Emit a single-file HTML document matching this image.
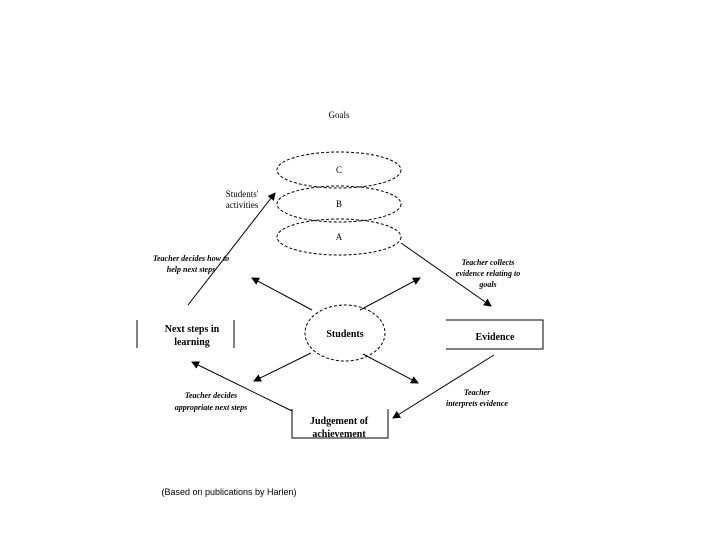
<!DOCTYPE html>
<html><head><style>body{margin:0;background:#fff}svg{display:block}</style></head><body>
<svg width="720" height="540" xmlns="http://www.w3.org/2000/svg" font-family="Liberation Serif, serif">
<defs><marker id="a" markerWidth="8" markerHeight="8" refX="7" refY="4" orient="auto" markerUnits="userSpaceOnUse"><path d="M0,0 L8,4 L0,8z" fill="#000"/></marker></defs>
<g fill="none" stroke="#000" stroke-width="1" stroke-dasharray="3,2">
<ellipse cx="339" cy="170" rx="62" ry="18"/>
<ellipse cx="339" cy="204" rx="62" ry="18"/>
<ellipse cx="339" cy="237" rx="62" ry="18"/>
<ellipse cx="345" cy="333" rx="40" ry="28"/>
</g>
<g stroke="#000" stroke-width="1" fill="none">
<line x1="137" y1="320" x2="137" y2="348"/><line x1="234" y1="320" x2="234" y2="348"/>
<polyline points="446,320 543,320 543,349 446,349"/>
<polyline points="292,409 292,438 388,438 388,409"/>
<g marker-end="url(#a)">
<line x1="188" y1="305" x2="275" y2="193"/>
<line x1="401" y1="243" x2="491" y2="306"/>
<line x1="494" y1="355" x2="393" y2="418"/>
<line x1="292" y1="411" x2="192" y2="362"/>
<line x1="312" y1="310" x2="252" y2="278"/>
<line x1="360" y1="310" x2="420" y2="278"/>
<line x1="311" y1="353" x2="254" y2="381"/>
<line x1="363" y1="354" x2="418" y2="383"/>
</g></g>
<g font-size="9" text-anchor="middle">
<text x="339" y="118">Goals</text>
<text x="339" y="173">C</text><text x="339" y="207">B</text><text x="339" y="240">A</text>
<text x="242" y="197">Students'</text><text x="242" y="208">activities</text>
</g>
<g font-size="10" font-weight="bold" text-anchor="middle">
<text x="192" y="332">Next steps in</text><text x="192" y="345">learning</text>
<text x="345" y="337">Students</text>
<text x="495" y="340">Evidence</text>
<text x="339" y="424">Judgement of</text><text x="339" y="437">achievement</text>
</g>
<g font-size="8" font-style="italic" font-weight="bold" text-anchor="middle">
<text x="191" y="261">Teacher decides how to</text><text x="191" y="272">help next steps</text>
<text x="488" y="265">Teacher collects</text><text x="488" y="276">evidence relating to</text><text x="488" y="287">goals</text>
<text x="211" y="398">Teacher decides</text><text x="211" y="410">appropriate next steps</text>
<text x="477" y="395">Teacher</text><text x="477" y="406">interprets evidence</text>
</g>
<text x="229" y="495" font-size="9" text-anchor="middle" font-family="Liberation Sans, sans-serif">(Based on publications by Harlen)</text>
</svg>
</body></html>
